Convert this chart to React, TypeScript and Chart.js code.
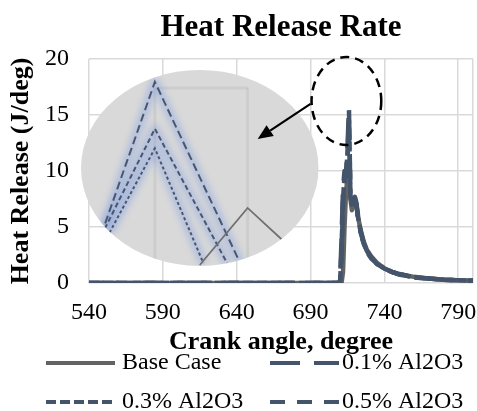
import React, { useEffect, useRef } from 'react';
import { Chart, registerables } from 'chart.js';

Chart.register(...registerables);

// ---------- data ----------
const angles = [540, 700, 708, 710, 711, 712, 713, 714, 715, 716, 717, 718, 719, 720, 721, 722, 724, 726, 728, 731, 735, 740, 745, 750, 760, 770, 780, 790, 800];
const baseCase = [0, 0, 0, 0, 0, 1, 5, 8, 9.5, 9, 7.5, 6.5, 7.2, 7.4, 7.0, 6.0, 4.7, 3.7, 3.0, 2.4, 1.8, 1.3, 1.0, 0.8, 0.55, 0.4, 0.3, 0.25, 0.2];
const al2o3_01 = [0, 0, 0, 0.2, 4, 8.5, 10, 9.5, 12, 15.7, 8, 7.2, 7.5, 7.7, 7.2, 6.2, 4.6, 3.6, 2.9, 2.3, 1.8, 1.3, 1.0, 0.8, 0.5, 0.4, 0.3, 0.25, 0.2];
const al2o3_03 = [0, 0, 0, 0.1, 3, 7.5, 9.5, 9.8, 11.5, 14.5, 8, 7.0, 7.4, 7.6, 7.0, 6.0, 4.5, 3.5, 2.9, 2.3, 1.7, 1.3, 1.0, 0.8, 0.5, 0.4, 0.3, 0.25, 0.2];
const al2o3_05 = [0, 0, 0, 0.1, 2.5, 7, 9.3, 9.6, 11, 13.5, 7.8, 6.9, 7.3, 7.5, 7.0, 6.0, 4.5, 3.5, 2.8, 2.2, 1.7, 1.25, 1.0, 0.75, 0.5, 0.4, 0.3, 0.25, 0.2];
const seriesLabels = ['Base Case', '0.1% Al2O3', '0.3% Al2O3', '0.5% Al2O3'];
const xTickValues = [540, 590, 640, 690, 740, 790, 800];
const xLabelValues = [540, 590, 640, 690, 740, 790];

// ---------- annotation geometry (data units) ----------
const insetEllipse = { cx: 615, cy: 10.27, rx: 80.4, ry: 8.75 };
const focusEllipse = { cx: 714.3, cy: 16.25, rx: 23.6, ry: 3.93 };
const arrowFrom = [690, 16.0];
const arrowTo = [654.2, 12.86];
// magnified picture inside inset, in normalized ellipse coords (-1..1)
const insetLongDash = [[-0.83, 0.68], [-0.378, -0.878], [0.34, 0.97]];
const insetMidDash = [[-0.80, 0.62], [-0.378, -0.40], [0.23, 0.97]];
const insetShortDash = [[-0.76, 0.66], [-0.378, -0.20], [0.03, 0.97]];
const insetSolid = [[0.0, 0.99], [0.403, 0.408], [0.70, 0.74], [0.86, 0.96]];
const insetGridV = [-0.378, 0.403];
const insetGridH = [-0.816];

const FONT = '"Liberation Serif", "Times New Roman", Times, serif';
const SLATE = '#44546a';
const GRAY = '#636363';

function toPts(vals: number[]) {
  return angles.map((a, i) => ({ x: a, y: vals[i] }));
}

const insetPlugin = {
  id: 'insetPlugin',
  beforeDatasetsDraw(chart: any) {
    const { ctx, scales } = chart;
    const xs = scales.x, ys = scales.y;
    const cx = xs.getPixelForValue(insetEllipse.cx);
    const cy = ys.getPixelForValue(insetEllipse.cy);
    const rx = xs.getPixelForValue(insetEllipse.cx + insetEllipse.rx) - cx;
    const ry = cy - ys.getPixelForValue(insetEllipse.cy + insetEllipse.ry);
    const P = (p: number[]) => [cx + p[0] * rx, cy + p[1] * ry];
    ctx.save();
    ctx.beginPath();
    ctx.ellipse(cx, cy, rx, ry, 0, 0, Math.PI * 2);
    ctx.fillStyle = '#d9d9d9';
    ctx.fill();
    ctx.clip();
    // faint grid
    ctx.strokeStyle = 'rgba(0,0,0,0.05)';
    ctx.lineWidth = 3;
    insetGridV.forEach((u) => {
      ctx.beginPath();
      ctx.moveTo(cx + u * rx, cy + insetGridH[0] * ry);
      ctx.lineTo(cx + u * rx, cy + ry);
      ctx.stroke();
    });
    insetGridH.forEach((v) => {
      ctx.beginPath();
      ctx.moveTo(cx + insetGridV[0] * rx, cy + v * ry);
      ctx.lineTo(cx + insetGridV[1] * rx, cy + v * ry);
      ctx.stroke();
    });
    const path = (pts: number[][]) => {
      ctx.beginPath();
      pts.forEach((p, i) => {
        const [px, py] = P(p);
        if (i === 0) ctx.moveTo(px, py); else ctx.lineTo(px, py);
      });
    };
    // blue glow
    ctx.save();
    ctx.filter = 'blur(3px)';
    ctx.strokeStyle = 'rgba(110,145,225,0.35)';
    ctx.lineWidth = 9;
    ctx.lineJoin = 'round';
    [insetLongDash, insetMidDash, insetShortDash].forEach((pts) => { path(pts); ctx.stroke(); });
    ctx.restore();
    ctx.lineJoin = 'miter';
    ctx.strokeStyle = '#4a5670';
    ctx.lineWidth = 2;
    ctx.setLineDash([8, 4]);
    path(insetLongDash); ctx.stroke();
    ctx.setLineDash([5, 3]);
    path(insetMidDash); ctx.stroke();
    ctx.setLineDash([3, 2.5]);
    path(insetShortDash); ctx.stroke();
    ctx.setLineDash([]);
    ctx.strokeStyle = '#707070';
    ctx.lineWidth = 1.8;
    path(insetSolid); ctx.stroke();
    ctx.restore();
  },
  afterDatasetsDraw(chart: any) {
    const { ctx, scales } = chart;
    const xs = scales.x, ys = scales.y;
    // dashed focus circle
    const cx = xs.getPixelForValue(focusEllipse.cx);
    const cy = ys.getPixelForValue(focusEllipse.cy);
    const rx = xs.getPixelForValue(focusEllipse.cx + focusEllipse.rx) - cx;
    const ry = cy - ys.getPixelForValue(focusEllipse.cy + focusEllipse.ry);
    ctx.save();
    ctx.strokeStyle = '#000';
    ctx.lineWidth = 2.5;
    ctx.setLineDash([9, 6]);
    ctx.beginPath();
    ctx.ellipse(cx, cy, rx, ry, 0, 0, Math.PI * 2);
    ctx.stroke();
    ctx.setLineDash([]);
    // arrow
    const x1 = xs.getPixelForValue(arrowFrom[0]);
    const y1 = ys.getPixelForValue(arrowFrom[1]);
    const x2 = xs.getPixelForValue(arrowTo[0]);
    const y2 = ys.getPixelForValue(arrowTo[1]);
    const ang = Math.atan2(y2 - y1, x2 - x1);
    const head = 15, half = 6.5;
    const bx = x2 - head * Math.cos(ang), by = y2 - head * Math.sin(ang);
    ctx.lineWidth = 2.2;
    ctx.beginPath();
    ctx.moveTo(x1, y1);
    ctx.lineTo(bx, by);
    ctx.stroke();
    ctx.fillStyle = '#000';
    ctx.beginPath();
    ctx.moveTo(x2, y2);
    ctx.lineTo(bx + half * Math.sin(ang), by - half * Math.cos(ang));
    ctx.lineTo(bx - half * Math.sin(ang), by + half * Math.cos(ang));
    ctx.closePath();
    ctx.fill();
    ctx.restore();
  },
};

const legendPlugin = {
  id: 'gridLegend',
  afterDraw(chart: any) {
    const { ctx } = chart;
    const cols = [46, 270];
    const rows = [chart.height - 48, chart.height - 9];
    const lineLen = 69;
    ctx.save();
    chart.data.datasets.forEach((ds: any, i: number) => {
      const x0 = cols[i % 2];
      const y0 = rows[Math.floor(i / 2)];
      ctx.strokeStyle = ds.borderColor;
      ctx.lineWidth = 4;
      ctx.lineCap = 'butt';
      ctx.setLineDash(ds.borderDash || []);
      ctx.beginPath();
      ctx.moveTo(x0, y0);
      ctx.lineTo(x0 + lineLen, y0);
      ctx.stroke();
      ctx.setLineDash([]);
      ctx.fillStyle = '#000';
      ctx.font = `24px ${FONT}`;
      ctx.textBaseline = 'middle';
      ctx.textAlign = 'left';
      ctx.fillText(ds.label, x0 + lineLen + (i % 2 === 0 ? 7 : 3), y0);
    });
    ctx.restore();
  },
};

export default function App() {
  const ref = useRef<HTMLCanvasElement | null>(null);
  useEffect(() => {
    if (!ref.current) return;
    const mk = (label: string, vals: number[], color: string, dash: number[], order: number) => ({
      label,
      data: toPts(vals),
      borderColor: color,
      backgroundColor: color,
      borderWidth: 4.5,
      borderDash: dash,
      borderCapStyle: 'butt',
      borderJoinStyle: 'round',
      pointRadius: 0,
      tension: 0,
      fill: false,
      order,
    });
    const chart = new Chart(ref.current, {
      type: 'line',
      data: {
        datasets: [
          mk(seriesLabels[0], baseCase, GRAY, [], 4),
          mk(seriesLabels[1], al2o3_01, SLATE, [30, 14], 3),
          mk(seriesLabels[2], al2o3_03, SLATE, [10, 4], 2),
          mk(seriesLabels[3], al2o3_05, SLATE, [15, 12], 1),
        ] as any,
      },
      options: {
        animation: false,
        responsive: false,
        devicePixelRatio: 1,
        layout: { padding: { left: 0, right: 4, top: 0, bottom: 53 } },
        plugins: {
          legend: { display: false },
          tooltip: { enabled: false },
          title: {
            display: true,
            text: 'Heat Release Rate',
            fullSize: false,
            color: '#000',
            font: { family: FONT, size: 31, weight: 'bold', lineHeight: 1.2 },
            padding: { top: 9, bottom: 12.8 },
          },
        },
        scales: {
          x: {
            type: 'linear',
            min: 540,
            max: 800,
            afterBuildTicks: (scale: any) => {
              scale.ticks = xTickValues.map((v) => ({ value: v }));
            },
            afterFit: (scale: any) => {
              scale.height = 75;
              scale.paddingLeft = 0;
              scale.paddingRight = 0;
            },
            ticks: {
              autoSkip: false,
              maxRotation: 0,
              padding: 15,
              color: '#000',
              font: { family: FONT, size: 24 },
              callback: (v: any) => (xLabelValues.includes(Number(v)) ? String(v) : ''),
            },
            grid: { color: '#d9d9d9', lineWidth: 1.5, drawTicks: false },
            border: { display: false },
            title: {
              display: true,
              text: 'Crank angle, degree',
              color: '#000',
              font: { family: FONT, size: 26, weight: 'bold', lineHeight: 1.2 },
              padding: { top: 0, bottom: 0 },
            },
          },
          y: {
            type: 'linear',
            min: 0,
            max: 20,
            afterFit: (scale: any) => { scale.width = 89; },
            ticks: {
              stepSize: 5,
              padding: 20,
              color: '#000',
              font: { family: FONT, size: 24 },
            },
            grid: { color: '#d9d9d9', lineWidth: 1.5, drawTicks: false },
            border: { display: false },
            title: {
              display: true,
              text: 'Heat Release (J/deg)',
              color: '#000',
              font: { family: FONT, size: 26, weight: 'bold', lineHeight: 1.2 },
              padding: { top: 6, bottom: 0 },
            },
          },
        },
      } as any,
      plugins: [insetPlugin, legendPlugin],
    });
    return () => chart.destroy();
  }, []);
  return (
    <canvas
      ref={ref}
      width={477}
      height={411}
      style={{ position: 'fixed', left: 0, top: 0, width: 477, height: 411, display: 'block' }}
    />
  );
}
